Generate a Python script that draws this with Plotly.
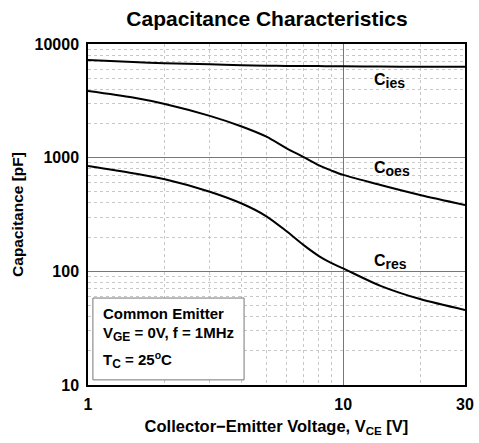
import math
import plotly.graph_objects as go

# Data
vce = [1, 1.5, 2, 3, 4, 5, 6, 7, 8, 9, 10, 14, 20, 30]
cies = [7230, 6950, 6770, 6620, 6500, 6450, 6420, 6400, 6390, 6380, 6370, 6340, 6310, 6300]
coes = [3860, 3380, 2965, 2330, 1880, 1530, 1210, 1010, 860, 770, 705, 575, 470, 384]
cres = [845, 730, 646, 502, 395, 305, 225, 170, 137, 118, 106, 74.5, 57, 45.7]

x_ticks = [1, 10, 30]
y_ticks = [10, 100, 1000, 10000]
x_minor = [2, 3, 4, 5, 6, 7, 8, 9, 20]
y_minor = [m * d for d in (10, 100, 1000) for m in range(2, 10)]

label_x = 13.0
SUB = "<sub><span style='font-size:14px'>{}</span></sub>"
series = [("C" + SUB.format("ies"), cies, 4730), ("C" + SUB.format("oes"), coes, 790),
          ("C" + SUB.format("res"), cres, 121)]

FONT = "Liberation Sans, Arial, sans-serif"

W, H = 479, 443

fig = go.Figure()
for name, vals, _ in series:
    fig.add_trace(go.Scatter(x=vce, y=vals, mode="lines", name=name,
                             line=dict(color="black", width=2, shape="spline", smoothing=0.8),
                             showlegend=False, hoverinfo="skip"))

for name, _, ypos in series:
    fig.add_annotation(x=math.log10(label_x), y=math.log10(ypos), xref="x", yref="y", text=name,
                       showarrow=False, xanchor="left", yanchor="middle",
                       font=dict(family=FONT, size=16, color="black", weight="bold"))

# Condition box
fig.add_shape(type="rect", xref="paper", yref="paper", x0=0.013, x1=0.414, y0=0.015, y1=0.255,
              line=dict(color="#777777", width=1), fillcolor="white", layer="above")
BSUB = "<sub><span style='font-size:12px'>{}</span></sub>"
box_lines = [("Common Emitter", 313), ("V" + BSUB.format("GE") + " = 0V, f = 1MHz", 334),
             ("T" + BSUB.format("C") + " = 25<sup>o</sup>C", 360)]
for txt, py in box_lines:
    fig.add_annotation(x=(101 - 88) / 377, y=(385 - py) / 341, xref="paper", yref="paper",
                       text=txt, showarrow=False, xanchor="left", yanchor="middle",
                       font=dict(family=FONT, size=15, color="black", weight="bold"))

axis_common = dict(
    type="log", showline=True, linecolor="black", linewidth=1.5, mirror=True,
    ticks="", showgrid=True, gridcolor="#777777", gridwidth=1, zeroline=False, automargin=False,
    tickfont=dict(family=FONT, size=16, color="black", weight="bold"),
)

fig.update_xaxes(**axis_common, range=[0, math.log10(30)], tickvals=x_ticks, ticktext=[str(v) for v in x_ticks],
                 minor=dict(tickvals=x_minor, showgrid=True, gridcolor="#c8c8c8", griddash="dot", gridwidth=1),
                 title=dict(text="Collector\u2212Emitter Voltage, V<sub>CE</sub> [V]",
                            font=dict(family=FONT, size=16.5, color="black", weight="bold"), standoff=8),
                 ticklabelstandoff=4)
fig.update_yaxes(**axis_common, range=[1, 4], tickvals=y_ticks, ticktext=[str(v) for v in y_ticks],
                 minor=dict(tickvals=y_minor, showgrid=True, gridcolor="#c8c8c8", griddash="dot", gridwidth=1),
                 title=dict(text="Capacitance [pF]",
                            font=dict(family=FONT, size=15.5, color="black", weight="bold"), standoff=7),
                 ticklabelstandoff=4)

fig.update_layout(
    width=W, height=H,
    margin=dict(l=88, r=W - 465, t=44, b=H - 385),
    paper_bgcolor="white", plot_bgcolor="white",
    title=dict(text="Capacitance Characteristics", x=267 / W, xanchor="center",
               y=1 - 19 / H, yanchor="middle",
               font=dict(family=FONT, size=21, color="black", weight="bold")),
)

fig.write_html("out.html", config={"displayModeBar": False},
               post_script="document.body.style.margin='0px';")
